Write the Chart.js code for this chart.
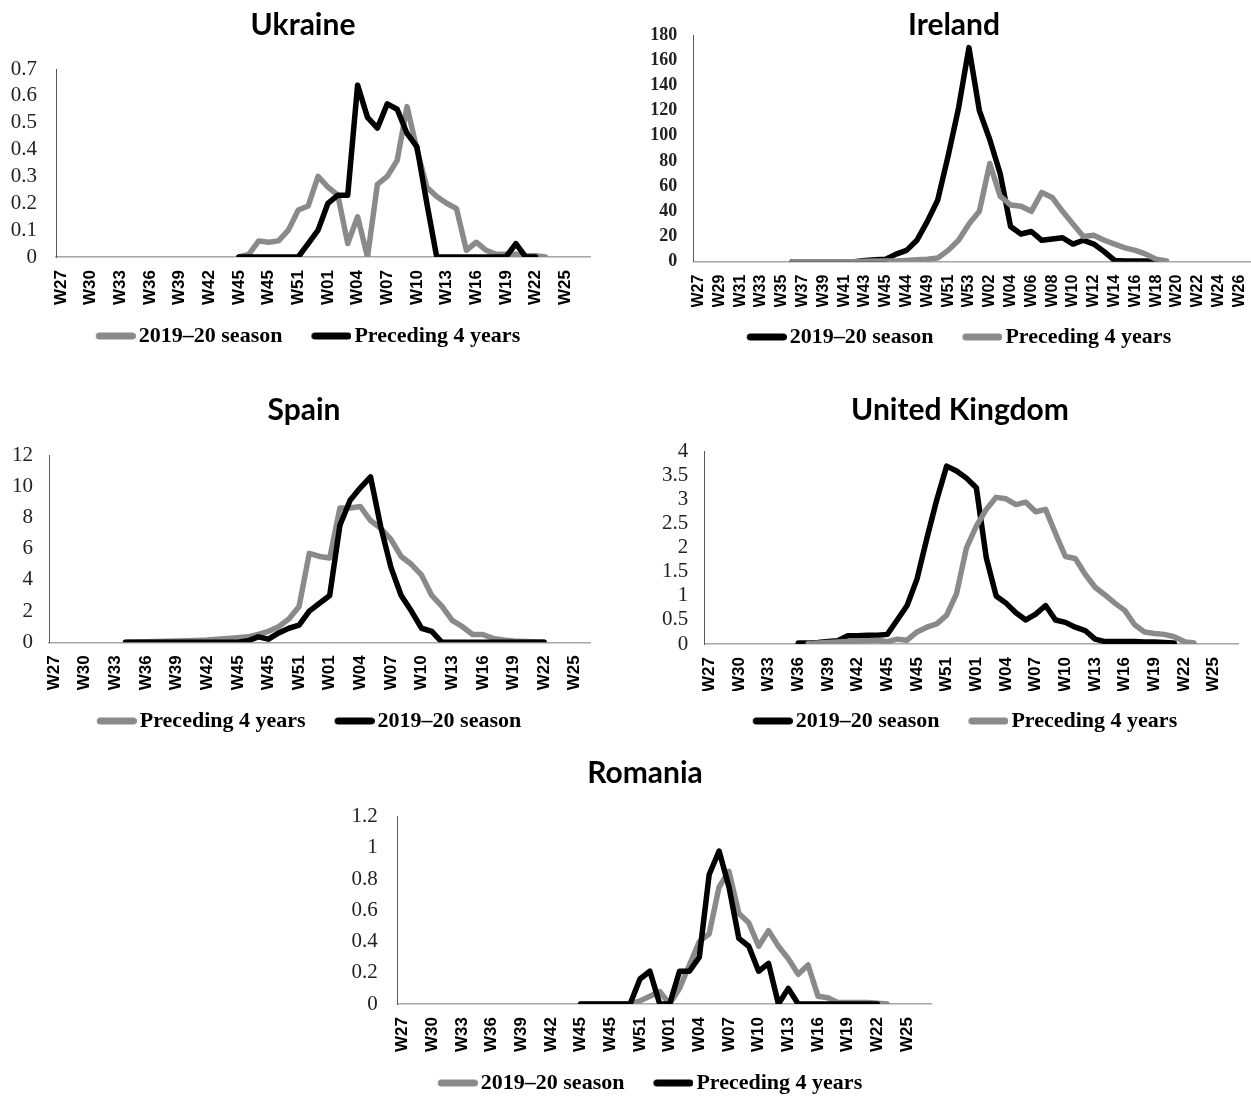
<!DOCTYPE html>
<html>
<head>
<meta charset="utf-8">
<script src="https://cdn.jsdelivr.net/npm/chart.js@4.4.0/dist/chart.umd.min.js"></script>
<style>
html,body{margin:0;padding:0;background:#fff;overflow:hidden;width:1251px;height:1096px;position:relative;}
canvas{position:absolute;display:block;}
</style>
</head>
<body>
<canvas id="cUkraine"></canvas>
<canvas id="cIreland"></canvas>
<canvas id="cSpain"></canvas>
<canvas id="cUK"></canvas>
<canvas id="cRomania"></canvas>
<script>
const _ = null;

// Categories: weeks from W27 (2019) to W27 (2020)
const weeks = ['W27','W28','W29','W30','W31','W32','W33','W34','W35','W36','W37','W38','W39','W40','W41','W42','W43','W44','W45','W46','W47','W48','W49','W50','W51','W52','W53',
               'W01','W02','W03','W04','W05','W06','W07','W08','W09','W10','W11','W12','W13','W14','W15','W16','W17','W18','W19','W20','W21','W22','W23','W24','W25','W26','W27'];
// Spain's sheet ends at W26
const weeksSpain = ['W27','W28','W29','W30','W31','W32','W33','W34','W35','W36','W37','W38','W39','W40','W41','W42','W43','W44','W45','W46','W47','W48','W49','W50','W51','W52','W53',
               'W01','W02','W03','W04','W05','W06','W07','W08','W09','W10','W11','W12','W13','W14','W15','W16','W17','W18','W19','W20','W21','W22','W23','W24','W25','W26'];

// Tick labels as printed on the axes
const ticksEvery3 = ['W27','W30','W33','W36','W39','W42','W45','W45','W51','W01','W04','W07','W10','W13','W16','W19','W22','W25'];
const ticksIreland = ['W27','W29','W31','W33','W35','W37','W39','W41','W43','W45','W44','W49','W51','W53','W02','W04','W06','W08','W10','W12','W14','W16','W18','W20','W22','W24','W26'];

// Ukraine
const ukraineSeason = [_,_,_,_,_,_,_,_,_,_,_,_,_,_,_,_,_,_,
  0,0.01,0.06,0.055,0.06,0.1,0.175,0.19,0.3,0.26,0.23,0.05,0.15,0,0.27,0.3,0.36,0.56,0.4,0.26,0.225,0.2,0.18,0.025,0.055,0.025,0.01,0.01,0.01,0.005,0.005,0,
  _,_,_,_];
const ukrainePreceding = [_,_,_,_,_,_,_,_,_,_,_,_,_,_,_,_,_,_,
  0,0,0,0,0,0,0,0.05,0.1,0.2,0.23,0.23,0.64,0.52,0.48,0.57,0.55,0.46,0.41,0.2,0,0,0,0,0,0,0,0,0.05,0,0,
  _,_,_,_,_];

// Ireland
const irelandSeason = [_,_,_,_,_,_,_,_,_,
  0,0,0,0,0,0,0,1,1.5,2,6,9,17,32,49,84,122,170,120,97,70,28,22,24,17,18,19,14,17,14,8,1,0.5,0.5,0.5,0,
  _,_,_,_,_,_,_,_,_];
const irelandPreceding = [_,_,_,_,_,_,_,_,_,
  0,0,0,0,0,0,0,0.3,0.5,0.5,0.5,1,1.5,2,3,9,17,30,40,78,52,45,44,40,55,51,40,30,20,21,17,14,11,9,6,2,0.5,
  _,_,_,_,_,_,_,_];

// Spain
const spainPreceding = [_,_,_,_,_,_,_,
  0.01,0.02,0.03,0.05,0.06,0.08,0.1,0.12,0.15,0.2,0.25,0.3,0.35,0.5,0.7,1.0,1.5,2.3,5.7,5.5,5.4,8.6,8.6,8.7,7.8,7.3,6.6,5.5,5.0,4.3,3.0,2.3,1.4,1.0,0.5,0.5,0.25,0.15,0.08,0.05,0.03,0.02,
  _,_,_,_];
const spainSeason = [_,_,_,_,_,_,_,
  0,0,0,0,0,0,0,0,0,0,0,0,0.1,0.35,0.2,0.6,0.9,1.1,2.0,2.5,3.0,7.5,9.1,9.9,10.6,7.4,4.8,3.0,2.0,0.9,0.7,0,0,0,0,0,0,0,0,0,0,0,
  _,_,_,_];

// United Kingdom
const ukSeason = [_,_,_,_,_,_,_,_,_,
  0.02,0.02,0.03,0.05,0.07,0.17,0.17,0.18,0.18,0.2,0.5,0.8,1.35,2.2,3.0,3.7,3.6,3.45,3.25,1.8,1.0,0.85,0.65,0.5,0.62,0.8,0.5,0.45,0.35,0.28,0.1,0.05,0.05,0.05,0.05,0.04,0.04,0.03,0.02,
  _,_,_,_,_,_];
const ukPreceding = [_,_,_,_,_,_,_,_,_,_,
  0.01,0.02,0.03,0.04,0.05,0.06,0.07,0.08,0.05,0.1,0.08,0.25,0.35,0.42,0.6,1.05,2.0,2.45,2.8,3.05,3.02,2.9,2.95,2.75,2.8,2.3,1.82,1.78,1.45,1.18,1.02,0.85,0.7,0.4,0.25,0.22,0.2,0.15,0.05,0.02,
  _,_,_,_];

// Romania
const romaniaSeason = [_,_,_,_,_,_,_,_,_,_,_,_,_,_,_,_,_,_,
  0,0,0,0,0,0,0.02,0.05,0.08,0,0.1,0.25,0.4,0.45,0.75,0.85,0.58,0.52,0.37,0.47,0.37,0.29,0.19,0.25,0.05,0.04,0.01,0.01,0.01,0.01,0.005,0,
  _,_,_,_];
const romaniaPreceding = [_,_,_,_,_,_,_,_,_,_,_,_,_,_,_,_,_,_,
  0,0,0,0,0,0,0.16,0.21,0,0,0.21,0.21,0.3,0.83,0.98,0.75,0.42,0.37,0.21,0.26,0,0.1,0,0,0,0,0,0,0,0,0,
  _,_,_,_,_];

const GREY = '#8a8a8a';
const BLACK = '#000000';
const SEASON = '2019\u201320 season';
const PRECEDING = 'Preceding 4 years';

function legendSwatch(color) {
  const c = document.createElement('canvas');
  c.width = 58; c.height = 10;
  const g = c.getContext('2d');
  g.strokeStyle = color; g.lineWidth = 7; g.lineCap = 'round';
  g.beginPath(); g.moveTo(21.5, 5); g.lineTo(54.5, 5); g.stroke();
  return c;
}

// lets the y tick labels use the whole left margin (no clipping at the padded edge)
const unclipY = { id: 'unclipY', afterLayout(chart) { chart.scales.y.left = 0; } };

function makeChart(id, L, cfg) {
  const cv = document.getElementById(id);
  const legendTop = L.legendY - 30;
  const h = Math.round(legendTop + 51 - L.top);
  const padL = Math.max(0, 2 * L.centerX - L.plotR - L.left);
  const padR = L.left + L.width - L.plotR;
  cv.width = L.width; cv.height = h;
  cv.style.left = L.left + 'px'; cv.style.top = L.top + 'px';
  cv.style.width = L.width + 'px'; cv.style.height = h + 'px';
  const step = cfg.step;
  new Chart(cv, {
    type: 'line',
    plugins: [unclipY],
    data: {
      labels: cfg.labels,
      datasets: cfg.series.map((s, i) => ({
        label: s.label, data: s.data, borderColor: s.color, backgroundColor: s.color,
        borderWidth: 5.5, pointRadius: 0, pointHoverRadius: 0, tension: 0,
        borderJoinStyle: 'round', borderCapStyle: 'round', fill: false, spanGaps: false, order: -i
      }))
    },
    options: {
      responsive: false, animation: false, devicePixelRatio: 1, events: [],
      layout: { autoPadding: false, padding: { left: padL, top: 0, bottom: 0, right: padR } },
      plugins: {
        title: {
          display: true, text: cfg.title, color: '#000',
          font: { family: 'Lato', weight: 'bold', size: 30, lineHeight: '20px' },
          padding: { top: L.titleY - L.top - 10, bottom: L.plotT - L.titleY - 10 }
        },
        legend: {
          display: true, position: 'bottom', align: 'center',
          labels: {
            usePointStyle: true, pointStyleWidth: 42, boxHeight: 22, padding: 19, color: '#000',
            font: { family: 'Liberation Serif', weight: 'bold', size: 22 },
            sort: (a, b) => a.datasetIndex - b.datasetIndex,
            generateLabels: (ch) => Chart.defaults.plugins.legend.labels.generateLabels(ch)
              .map(it => Object.assign(it, { pointStyle: legendSwatch(it.strokeStyle) }))
          }
        },
        tooltip: { enabled: false }
      },
      scales: {
        x: {
          type: 'category', offset: true,
          grid: { display: false, drawTicks: false },
          border: { display: true, color: '#a6a6a6', width: 1.5 },
          ticks: {
            autoSkip: false, maxRotation: 90, minRotation: 90, padding: L.xPad, color: '#000',
            font: { family: 'Liberation Sans', weight: 'bold', size: cfg.xFont },
            callback: (v, i) => (i % step === 0 && cfg.ticks[i / step] !== undefined) ? cfg.ticks[i / step] : ''
          },
          afterFit: (s) => { s.height = legendTop - L.plotB; s.paddingLeft = 0; s.paddingRight = 0; }
        },
        y: {
          min: 0, max: cfg.ymax,
          grid: { display: false, drawTicks: false },
          border: { display: true, color: '#595959', width: 1 },
          ticks: {
            autoSkip: false, stepSize: cfg.ystep, padding: L.yPad, color: '#222',
            font: { family: 'Liberation Serif', size: cfg.yFont, weight: cfg.yBold ? 'bold' : 'normal' },
            callback: (v) => String(Math.round(v * 100) / 100)
          },
          afterFit: (s) => { s.width = L.plotL - L.left - padL; s.paddingTop = 0; s.paddingBottom = 0; }
        }
      }
    }
  });
}

makeChart('cUkraine',
  { left: 0, top: 0, width: 610, plotL: 56, plotR: 590, plotT: 69, plotB: 257, titleY: 25, legendY: 336, centerX: 303, xPad: 13, yPad: 19 },
  { title: 'Ukraine', labels: weeks, ymax: 0.7, ystep: 0.1, yFont: 21, yBold: false, xFont: 17, step: 3, ticks: ticksEvery3,
    series: [ { label: SEASON, data: ukraineSeason, color: GREY }, { label: PRECEDING, data: ukrainePreceding, color: BLACK } ] });

makeChart('cIreland',
  { left: 645, top: 0, width: 620, plotL: 693.3, plotR: 1255, plotT: 35, plotB: 261.7, titleY: 25, legendY: 337, centerX: 954, xPad: 13, yPad: 16 },
  { title: 'Ireland', labels: weeks, ymax: 180, ystep: 20, yFont: 18, yBold: true, xFont: 16, step: 2, ticks: ticksIreland,
    series: [ { label: SEASON, data: irelandSeason, color: BLACK }, { label: PRECEDING, data: irelandPreceding, color: GREY } ] });

makeChart('cSpain',
  { left: 0, top: 380, width: 610, plotL: 49, plotR: 590, plotT: 455, plotB: 642.3, titleY: 410, legendY: 721, centerX: 304, xPad: 13, yPad: 16 },
  { title: 'Spain', labels: weeksSpain, ymax: 12, ystep: 2, yFont: 21, yBold: false, xFont: 17, step: 3, ticks: ticksEvery3,
    series: [ { label: PRECEDING, data: spainPreceding, color: GREY }, { label: SEASON, data: spainSeason, color: BLACK } ] });

makeChart('cUK',
  { left: 650, top: 380, width: 620, plotL: 704.3, plotR: 1238.5, plotT: 451.7, plotB: 644, titleY: 410, legendY: 721, centerX: 960, xPad: 13, yPad: 16 },
  { title: 'United Kingdom', labels: weeks, ymax: 4, ystep: 0.5, yFont: 21, yBold: false, xFont: 17, step: 3, ticks: ticksEvery3,
    series: [ { label: SEASON, data: ukSeason, color: BLACK }, { label: PRECEDING, data: ukPreceding, color: GREY } ] });

makeChart('cRomania',
  { left: 340, top: 745, width: 610, plotL: 397.7, plotR: 931.7, plotT: 816.7, plotB: 1004, titleY: 773, legendY: 1083, centerX: 645, xPad: 13, yPad: 20 },
  { title: 'Romania', labels: weeks, ymax: 1.2, ystep: 0.2, yFont: 21, yBold: false, xFont: 17, step: 3, ticks: ticksEvery3,
    series: [ { label: SEASON, data: romaniaSeason, color: GREY }, { label: PRECEDING, data: romaniaPreceding, color: BLACK } ] });
</script>
</body>
</html>
